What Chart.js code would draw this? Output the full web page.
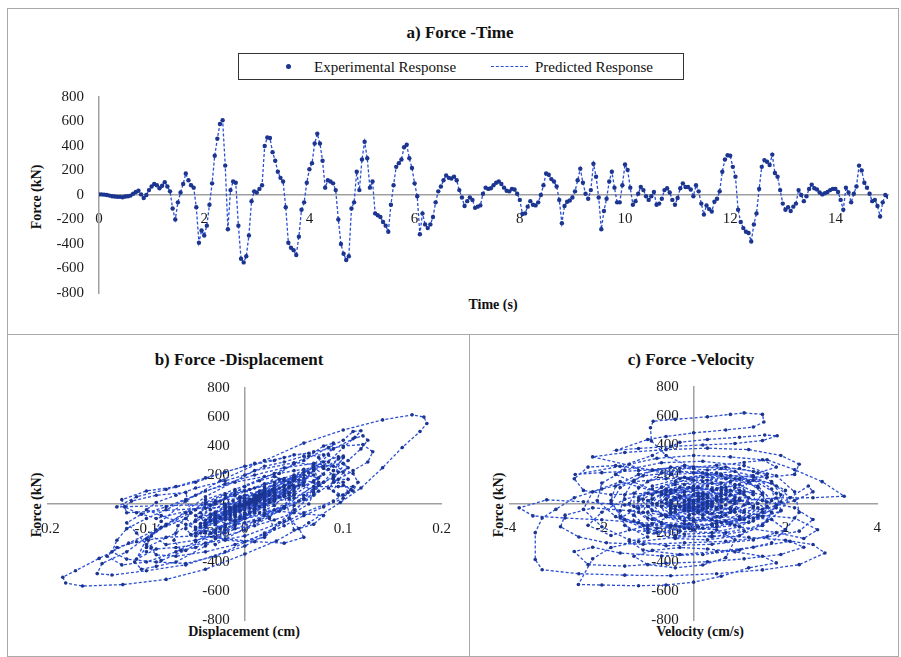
<!DOCTYPE html>
<html>
<head>
<meta charset="utf-8">
<script src="https://cdn.jsdelivr.net/npm/chart.js@4.4.1/dist/chart.umd.min.js"></script>
<style>
  body { margin: 0; background: #fff; width: 901px; height: 657px; position: relative; overflow: hidden;
         font-family: 'Liberation Serif', 'Times New Roman', serif; color: #111; }
  .frame { position: absolute; border: 1px solid #a9a9a9; box-sizing: border-box; }
  .title { position: absolute; font-weight: bold; font-size: 17px; line-height: 1; white-space: nowrap;
           transform: translate(-50%, -50%); }
  .axt { position: absolute; font-weight: bold; font-size: 14px; line-height: 1; white-space: nowrap;
         transform: translate(-50%, -50%); }
  .axt.rot { transform: translate(-50%, -50%) rotate(-90deg); }
  .legend { position: absolute; left: 238px; top: 53px; width: 446px; height: 27px; border: 1px solid #333;
            box-sizing: border-box; font-size: 15px; }
  .legend span { position: absolute; line-height: 1; white-space: nowrap; }
  canvas { position: absolute; }
</style>
</head>
<body>
<div class="frame" style="left:7px;top:8px;width:892px;height:327px"></div>
<div class="frame" style="left:7px;top:334px;width:463px;height:323px"></div>
<div class="frame" style="left:469px;top:334px;width:430px;height:323px"></div>

<div class="title" style="left:460px;top:32px">a) Force -Time</div>
<div class="legend">
  <span style="left:47px;top:10px;width:5px;height:5px;border-radius:50%;background:#1b3590"></span>
  <span style="left:75px;top:6px">Experimental Response</span>
  <span style="left:252px;top:12px;width:37px;height:0;border-top:1.5px dashed #2b4fd4"></span>
  <span style="left:296px;top:6px">Predicted Response</span>
</div>
<div class="axt rot" style="left:37px;top:197px">Force (kN)</div>
<div class="axt" style="left:493px;top:305px">Time (s)</div>

<div class="title" style="left:239px;top:359px">b) Force -Displacement</div>
<div class="axt rot" style="left:37px;top:505px">Force (kN)</div>
<div class="axt" style="left:244px;top:632px">Displacement (cm)</div>

<div class="title" style="left:691px;top:359px">c) Force -Velocity</div>
<div class="axt rot" style="left:499px;top:505px">Force (kN)</div>
<div class="axt" style="left:700px;top:632px">Velocity (cm/s)</div>

<canvas id="chartA" width="889" height="324" style="left:8px;top:9px"></canvas>
<canvas id="chartB" width="459" height="318" style="left:8px;top:336px"></canvas>
<canvas id="chartC" width="426" height="318" style="left:471px;top:336px"></canvas>

<script>
// a) force history, one value every 0.05 s from 0 to 15 s (kN)
const timeStep = 0.05;
const forceTime = [
  5, 5, 3, 0, -5, -10, -12, -15, -15, -18, -12, -10, -5, 10, 25, 35, 5, -25, 0, 40,
  70, 90, 80, 55, 75, 105, 70, 30, -110, -200, -60, 20, 90, 175, 120, 80, 60, -100, -390, -290,
  -330, -250, -80, 95, 320, 460, 580, 610, 240, -280, 40, 110, 100, -250, -520, -550, -500, -330, -50, 30,
  20, 50, 80, 400, 470, 465, 350, 280, 190, 140, 110, -100, -390, -430, -450, -490, -340, -120, -60, 100,
  210, 260, 420, 500, 420, 280, 60, 120, 110, 95, 40, -200, -400, -480, -530, -500, -110, -60, 190, 40,
  290, 435, 300, 60, 110, -150, -165, -180, -220, -250, -300, -80, 80, 230, 260, 290, 390, 410, 300, 220,
  95, -10, -320, -150, -240, -270, -240, -180, -60, 30, 70, 120, 160, 140, 135, 150, 120, 40, -20, -90,
  -50, -20, -40, -105, -95, -85, 10, 60, 50, 55, 80, 100, 110, 90, 60, 35, 30, 50, 45, 10,
  -40, -155, -150, -95, -50, -80, -85, -60, 0, 80, 175, 165, 130, 110, 70, -40, -230, -90, -55, -45,
  -20, 30, 120, 215, 100, 10, -30, 40, 255, 150, -20, -280, -130, -30, 110, 190, 60, -60, -60, 80,
  250, 205, 60, -80, -50, 10, 65, 40, -10, -40, -10, 25, -80, -70, -30, 40, 55, 20, -40, -80,
  -25, 55, 95, 65, 65, 45, -10, 80, 30, -70, -160, -85, -115, -135, -55, -30, 30, 190, 290, 325,
  320, 230, 150, -120, -220, -270, -300, -310, -380, -240, -150, 50, 230, 285, 272, 245, 330, 180, 150, 40,
  -70, -120, -100, -130, -95, -70, 40, 0, -50, -10, 50, 85, 55, 45, 20, 5, 14, 25, 40, 50,
  50, 25, -40, -120, 60, 20, -60, 10, 70, 240, 200, 100, 60, 10, -50, -40, -90, -175, -60, 0,
  -15
];
const timeTicks = [0, 2, 4, 6, 8, 10, 12, 14];

// b) displacement (cm), force (kN) along the loops
const dispForce = [
  [0,5],[0.004,-8],[-0.006,-15],[0.003,10],[0.012,40],[0.018,70],[0.008,30],[0.02,90],[0.028,100],[0.015,60],
  [-0.01,-30],[-0.03,-110],[-0.045,-200],[-0.035,-90],[-0.012,20],[0.02,100],[0.04,175],[0.048,130],[0.04,80],[0.025,10],
  [-0.02,-150],[-0.06,-320],[-0.085,-390],[-0.095,-300],[-0.1,-330],[-0.098,-250],[-0.085,-120],
  [-0.06,20],[-0.025,160],[0.02,300],[0.06,420],[0.1,510],[0.14,580],[0.17,615],[0.182,600],[0.185,555],[0.178,500],
  [0.16,390],[0.14,250],[0.118,110],[0.097,10],[0.065,-130],[0.032,-255],[0,-345],[-0.04,-450],[-0.08,-520],[-0.124,-556],
  [-0.165,-566],[-0.182,-545],[-0.185,-505],[-0.172,-460],
  [-0.148,-375],[-0.118,-270],[-0.085,-160],[-0.055,-60],[-0.03,20],[-0.005,40],[0.012,25],[0.03,60],[0.06,220],[0.09,380],
  [0.11,450],[0.12,470],[0.125,440],[0.118,380],[0.105,300],[0.095,220],[0.09,170],[0.1,130],[0.108,100],
  [0.09,20],[0.06,-60],[0.02,-200],[-0.02,-330],[-0.06,-420],[-0.1,-460],[-0.135,-490],[-0.15,-480],[-0.145,-410],
  [-0.12,-330],[-0.09,-180],[-0.06,-100],[-0.04,30],[-0.01,100],[0.03,210],[0.06,300],[0.085,390],[0.1,440],[0.11,500],
  [0.118,505],[0.112,460],
  [0.1,390],[0.085,290],[0.07,230],[0.055,130],[0.045,60],[0.04,100],[0.02,20],[-0.01,-150],[-0.04,-290],[-0.07,-400],
  [-0.09,-430],[-0.105,-450],[-0.112,-400],
  [-0.1,-300],[-0.07,-200],[-0.05,-110],[-0.03,0],[-0.01,90],[0.02,120],[0.035,210],[0.05,280],[0.065,330],[0.08,400],[0.09,420],
  [0.085,340],[0.07,240],[0.06,150],[0.05,70],[0.04,-20],[0.025,-90],[0,-180],[-0.03,-240],[-0.05,-300],[-0.065,-320],[-0.072,-250],
  [-0.068,-150],[-0.055,-60],[-0.06,80],[-0.09,60],[-0.115,20],[-0.122,-20],[-0.11,-60],[-0.09,-100],[-0.035,-10],[-0.02,40],
  [0,120],[0.015,160],[0.03,190],[0.045,150],[0.05,160],
  [0.04,60],[0.05,-180],[0.07,-140],[0.08,-80],[0.02,-40],[0,-100],[-0.02,-180],[-0.035,-200],[-0.04,-150],[-0.03,-90],
  [-0.01,-20],[0.01,60],[0.03,100],[0.045,40],[0.04,-20],[0.02,-60],[0,-100],
  [-0.02,-50],[-0.04,-130],[-0.045,-155],[-0.03,-100],[-0.01,-50],[-0.02,-80],[0,0],[0.03,80],[0.05,175],[0.055,165],
  [0.045,120],[0.03,60],[0.01,-40],[-0.03,-230],[-0.04,-150],[-0.02,-60],[-0.01,-20],[0.01,30],[0.04,120],[0.065,215],
  [0.06,150],[0.03,20],[0.005,-30],[0.02,40],[0.07,255],[0.075,150],[0.04,-20],[-0.03,-280],[-0.05,-200],[-0.02,-50],
  [0.02,110],[0.05,190],[0.04,80],[0,-60],[-0.01,-50],[0.02,80],[0.07,250],[0.08,205],[0.05,60],[0,-80],
  [-0.01,-50],[0.005,10],[0.02,65],[0.015,40],[-0.002,-10],[-0.015,-40],[-0.005,-10],[0.008,25],[-0.01,-80],[-0.02,-70],
  [-0.01,-30],[0.01,40],[0.02,55],[0.01,20],[-0.01,-40],[-0.03,-80],[-0.015,-25],[0.012,55],[0.03,95],[0.025,65],
  [0.02,65],[0.015,45],[0,-10],[0.02,80],[0.01,30],[-0.015,-70],[-0.04,-160],[-0.03,-85],[-0.035,-115],[-0.045,-135],
  [-0.03,-55],[-0.02,-30],
  [0.01,30],[0.05,190],[0.08,290],[0.095,325],[0.1,320],[0.09,230],[0.08,150],[0.04,-120],[0,-220],[-0.04,-270],
  [-0.07,-300],[-0.09,-310],[-0.11,-380],[-0.1,-240],[-0.08,-150],[-0.04,50],[0.01,230],[0.05,285],[0.07,272],[0.08,245],
  [0.1,330],[0.09,180],[0.08,150],[0.06,40],
  [0.02,-70],[-0.01,-120],[-0.02,-100],[-0.03,-130],[-0.02,-95],[-0.01,-70],[0.01,40],[0.01,0],[-0.005,-50],[0,-10],
  [0.015,50],[0.025,85],[0.02,55],[0.015,45],[0.01,20],[0.005,5],[0.007,14],[0.01,25],[0.013,40],[0.016,50],
  [0.01,25],[-0.005,-40],[-0.03,-120],[0,60],[0.01,20],[-0.01,-60],[0,10],[0.02,70],[0.06,240],[0.07,200],
  [0.04,100],[0.025,60],[0.01,10],[-0.01,-50],[-0.015,-40],[-0.025,-90],[-0.05,-175],[-0.03,-60],[-0.005,0],[-0.005,-15],
  [-0.12,-60],[-0.125,30],[-0.1,90],[-0.07,120],[-0.04,180],[0,260],[0.03,300],[0.05,340],[0.065,350],[0.075,320],
  [0.08,250],[0.09,200],[0.1,150],[0.105,80],[0.1,40],[0.08,-20],[0.06,-80],[0.04,-150],[0.02,-210],[-0.01,-280],
  [-0.04,-330],[-0.07,-360],[-0.09,-350],[-0.1,-280],[-0.11,-200],[-0.12,-130],[-0.105,-70],[-0.08,-20],[-0.05,60],[-0.02,140],
  [0.01,200],[0.04,250],[0.07,280],[0.09,260],[0.11,210],[0.115,150],[0.11,90],[0.095,60],[0.085,110],[0.095,170],
  [0.105,170],[0.1,220],[0.09,90],[0.1,60],[0.11,120],[0.095,120],
  [0.07,120],[0.05,40],[0.03,-40],[0.01,-120],[-0.02,-200],[-0.05,-250],[-0.08,-280],[-0.095,-220],[-0.08,-140],[-0.06,-60],
  [-0.04,0],[-0.02,60],[0,40],[0.02,100],[0.04,160],[0.06,200],[0.075,180],[0.07,100],[0.055,20],[0.035,-50],
  [0.015,-110],[-0.01,-140],[-0.03,-120],[-0.045,-60],[-0.04,10],[-0.02,70],[0,90],[0.02,50],[0.01,-30],[-0.01,-90],
  [-0.02,-110],[-0.03,-60],[-0.02,-10],[0,30],[0.02,70],[0.035,110],[0.04,130],[0.03,80],[0.015,20],[0,-40],
  [-0.015,-90],[-0.03,-140],[-0.025,-170],[-0.01,-120],[0.005,-60],[0.02,0],[0.03,40],[0.04,90],[0.05,120],[0.045,80],
  [0.03,30],[0.015,-20],[0,-70],[-0.015,-110],[-0.02,-70],[-0.01,-20],[0.005,30],[0.02,80],[0.03,130],[0.02,100],
  [0.01,50],[-0.005,0],[-0.015,-50],[-0.025,-100],[-0.04,-110],[-0.05,-80],[-0.04,-30],[-0.025,20],[-0.01,70],[0.005,100],
  [0.02,140],[0.035,170],[0.05,200],[0.06,180],[0.05,110],[0.035,50],[0.02,-10],[0.01,-60],[-0.005,-100],[-0.02,-140],
  [-0.04,-190],[-0.055,-210],[-0.06,-170],[-0.05,-120],[-0.035,-70],[-0.02,-20],[-0.005,20],[0.01,50],[0.025,30],[0.01,-10],
  [0,10],[0.015,70],[0.03,110],[0.02,60],[0.005,10],[-0.01,-30],[0,-20],[0.01,15],[0.02,35],[0.012,5],
  [-0.13,-20],[-0.11,50],[-0.08,100],[-0.05,150],[-0.02,220],[0.01,280],[0.04,320],[0.07,360],[0.1,400],[0.12,410],
  [0.13,360],[0.125,290],[0.11,230],[0.09,150],[0.07,60],[0.05,-40],[0.035,-130],[0.02,-220],[0,-290],[-0.03,-360],
  [-0.06,-410],[-0.09,-400],[-0.12,-380],[-0.135,-330],[-0.13,-250],[-0.12,-170],[-0.1,-100],[-0.08,-40],[-0.06,30],[-0.04,90],
  [-0.01,150],[0.02,190],[0.05,230],[0.08,260],[0.1,280],[0.105,250],[0.09,190],[0.075,130],[0.06,60],[0.05,-10],
  [0.045,-100],[0.055,-170],[0.06,-230],[0.04,-270],[0.01,-260],[-0.02,-240],[-0.05,-220],[-0.08,-230],[-0.11,-260],[-0.13,-300],
  [-0.14,-360],[-0.125,-420],[-0.1,-400],[-0.07,-330],[-0.05,-260],[-0.03,-180],[-0.01,-110],[0.01,-50],[0.03,20],[0.05,90],
  [0.07,160],[0.085,240],[0.095,310],[0.08,340],[0.06,330],[0.04,290],[0.02,260],[0,200],[-0.02,160],[-0.05,110],
  [-0.07,60],[-0.09,10],[-0.1,-40],[-0.085,-80],[-0.06,-140],[-0.04,-200],[-0.02,-250],[0,-260],[0.02,-230],[0.03,-170],
  [0.025,-100],[0.02,-20],[0.03,50],[0.045,110],[0.06,130],[0.07,80],[0.065,0],[0.05,-60],[0.03,-110],[0.01,-150],
  [-0.01,-170],[-0.03,-200],[-0.05,-160],[-0.06,-100],[-0.05,-40],[-0.03,10],[-0.01,60],[0.01,110],[0.03,150],[0.05,170],
  [0.07,150],[0.075,90],[0.06,30],[0.04,-30],[0.02,-80],[0,-130],[-0.02,-160],[-0.04,-140],[-0.045,-90],[-0.035,-40],
  [-0.02,0],[-0.005,50],[0.015,90],[0.03,100],[0.04,50],[0.03,-10],[0.015,-60],[-0.005,-90],[-0.02,-60],[-0.01,-10]
];

// c) velocity (cm/s), force (kN) along the loops
const velForce = [
  [0,0],[0.3,15],[0.6,50],[0.4,90],[-0.1,110],[-0.5,70],[-0.7,10],[-0.4,-40],[0.1,-60],[0.6,-30],
  [0.9,40],[0.7,110],[0.2,150],[-0.4,130],[-0.9,60],[-1,-20],[-0.6,-90],[0,-120],[0.7,-80],[1.2,0],[1.1,80],[0.6,140],
  [0,240],[-0.6,330],[-0.92,430],[-0.94,520],[-0.88,565],[-0.4,578],[0.3,595],[0.8,612],[1.1,622],[1.5,612],
  [1.53,560],[1.3,525],[0.7,505],[0,485],[-0.6,460],[-1,440],[-1.68,366],[-1.2,378],[-0.5,392],[0.2,402],
  [0.9,412],[1.5,432],[1.82,465],[1.55,470],[1,455],[0.3,440],[-0.3,420],
  [-0.9,330],[-1.6,255],[-2.58,199],[-2,212],[-1.2,226],[-0.3,242],[0.5,262],[1.1,282],[1.6,300],[2.2,232],
  [2.8,150],[3.28,50],[2.6,40],[1.8,38],[1,20],[0.3,0],[-0.5,-20],
  [-1.5,-10],[-2.4,12],[-3.2,25],[-3.8,-30],[-3.5,-85],[-2.8,-100],[-2,-112],[-1.2,-130],[-0.4,-150],[0.4,-140],
  [1,-110],[1.5,-60],[1.9,10],[2,90],[1.7,140],[1,170],[0.2,180],[-0.6,170],[-1.3,150],[-2,100],
  [-2.6,40],[-3,-40],[-3.3,-100],
  [-3.45,-200],[-3.45,-385],[-3.3,-455],[-2.5,-482],[-1.5,-492],[-0.5,-496],[0.5,-482],[1.5,-456],[2.3,-420],[2.86,-340],
  [2.6,-282],[2,-252],[1.2,-232],[0.4,-222],[-0.4,-232],[-1.2,-262],[-1.8,-302],[-2.2,-380],[-2.51,-556],[-2,-560],
  [-1.2,-565],[-0.6,-560],[0,-540],[0.6,-500],[1.2,-442],[1.8,-408],[1.5,-362],[0.9,-332],[0.3,-312],[-0.3,-302],
  [-0.9,-322],[-1.3,-362],[-1,-420],[-0.4,-442],[0.2,-422],[0.7,-372],
  [0.9,-250],[0.5,-180],[-0.2,-170],[-0.8,-200],[-1.4,-180],[-1.6,-100],[-1.2,-30],[-0.5,20],[0.3,60],[1,90],
  [1.5,60],[1.6,-20],[1.2,-90],[0.5,-120],[-0.3,-100],[-0.9,-50],[-1.2,40],[-0.9,120],[-0.2,180],[0.6,200],
  [1.3,180],[1.8,120],[2.1,40],[1.9,-50],[1.3,-120],
  [2.5,120],[2.6,80],[2.2,20],[1.5,-40],[0.8,-60],[0.2,-80],[-0.4,-60],[-0.8,0],[-0.6,60],[0,90],
  [0.6,70],[0.9,0],[0.6,-60],[0,-70],[-0.5,-30],[-0.6,30],[-0.2,80],[0.4,100],[0.8,60],[0.7,-10],
  [0.2,-40],[-0.3,-20],[-0.4,40],[0,60],[0.5,40],[0.4,-20],[-0.1,-30],[-0.2,10],[0.1,30],[0.3,10],
  [-1,-150],[-1.8,-220],[-2.3,-150],[-2,-60],[-1.5,30],[-0.8,80],[0,120],[0.8,150],[1.4,210],[1.8,250],
  [1.5,300],[0.8,320],[0,330],[-0.8,310],[-1.4,270],[-1.7,200],
  [1,-160],[1.8,-200],[2.4,-240],[2.7,-180],[2.2,-100],[1.4,-80],
  [0.8,-40],[0.2,0],[-0.3,50],[-0.6,100],[-0.3,170],[0.3,200],[0.9,220],[1.2,150],[1,70],[0.5,20],
  [0,-20],[-0.5,-60],[-0.9,-110],[-0.5,-160],[0.2,-170],[0.8,-140],[1.1,-60],[0.8,10],[0.3,40],[-0.2,20],
  [-0.4,-20],[-0.1,-50],[0.3,-30],[0.5,30],[0.2,70],[-0.2,60],[-0.5,0],[-0.2,-40],[0.2,-10],[0.1,20],
  [0.4,-10],[0.9,-60],[1.3,-20],[1.5,70],[1.2,150],[0.6,190],[-0.1,170],[-0.7,110],[-1.1,30],[-1.2,-60],
  [-0.9,-140],[-0.3,-190],[0.4,-200],[1,-160],[1.4,-90],[1.6,10],[1.4,110],[0.9,170],[0.2,210],[-0.5,200],
  [-1,150],[-1.3,70],[-1.3,-20],[-1,-100],[-0.5,-150],[0.1,-160],[0.7,-120],[1.1,-50],[1.2,40],[0.9,110],
  [0.4,140],[-0.2,130],[-0.7,80],[-0.9,0],[-0.7,-80],[-0.2,-120],[0.4,-110],[0.8,-60],[0.9,20],[0.6,90],
  [0.1,110],[-0.4,90],[-0.6,30],[-0.5,-40],[-0.1,-80],[0.4,-70],[0.6,-20],[0.5,50],[0.1,70],[-0.3,40],
  [-0.3,-20],[0,-40],[0.3,-20],[0.2,30],[-0.1,30],[-0.1,0],[0.7,30],[1.4,0],[1.7,-60],[1.5,-150],
  [1,-220],[0.3,-250],[-0.4,-240],[-1,-200],[-1.3,-120],[-1.4,0],[-1.2,110],[-0.7,210],[0,250],[0.7,250],
  [1.3,220],[1.7,150],[1.9,60],[1.8,-30],[1.3,-100],[0.6,-130],[0,-110],[-0.5,-70],[-0.8,-10],[-0.7,60],
  [-0.3,110],[0.3,120],[0.8,90],[1,30],[0.8,-30],[0.3,-60],[-0.2,-50],[-0.5,0],[-0.3,50],[0.2,60],
  [0.6,30],[0.5,-30],[0.1,-50],[-0.2,-10],[0,20],[0.5,100],[1,130],[1.3,80],[1.1,-10],[0.6,-90],
  [-0.1,-140],[-0.7,-130],[-1.1,-60],[-1,20],[-0.6,80],[0,100],[0.6,110],[1.1,60],[1.3,-30],[1,-110],
  [0.4,-150],[-0.2,-140],[-0.6,-90],[-0.7,-20],[-0.4,40],[0.1,50],[0.4,10],[0.2,-30],[-0.1,-20],[0,10],
  [-1.6,150],[-2.2,80],[-2.4,-40],[-2,-160],[-1.4,-250],[-0.6,-290],[0.4,-280],[1.3,-250],[2,-180],[2.3,-60],
  [2.2,80],[1.8,190],[1.1,260],[0.2,290],[-0.7,280],[-1.5,230],[-2,140],[-2.1,20],[-1.7,-90],[-1,-180],
  [-0.2,-210],[0.7,-200],[1.5,-150],[1.9,-50],[1.8,70],[1.3,160],[0.5,210],[-0.3,220],[-1.1,190],[-1.6,110],
  [-1.8,0],[-1.5,-110],[-0.8,-170],[0,-180],[0.9,-150],[1.5,-90],[1.7,20],[1.4,120],[0.7,170],[0,160],
  [-2.2,320],[-1.5,350],[-0.6,370],[0.3,380],[1.2,370],[1.9,330],[2.3,270],[2.2,200],[1.6,180],[0.8,190],
  [0,210],[-0.9,230],[-1.7,260],[-2.3,250],[-2.6,170],[-2.4,90],[-1.8,60],[-1,70],[-0.2,80],[0.7,60],
  [1.5,20],[2.2,-30],[2.6,-110],[2.3,-190],[1.6,-230],[0.7,-260],[-0.2,-270],[-1.1,-280],[-1.9,-270],[-2.5,-230],
  [-2.9,-160],[-2.8,-80],[-2.2,-30],[-1.4,-50],[-0.6,-80],[0.2,-100],[1,-90],[1.7,-110],[2,-180],[1.7,-270],
  [1,-320],[0.2,-350],[-0.7,-360],[-1.6,-340],[-2.2,-300],[-2.6,-330],[-2.3,-420],[-1.5,-430],[-0.6,-410],[0.3,-400],
  [1.1,-380],[1.9,-350],[2.4,-300],[2.1,-260],[1.3,-300],[0.5,-330],[-0.3,-350],[-1.1,-320],[-1.4,-260],[-1,-230],
  [-1.5,-150],[-1.6,-50],[-1.5,60],[-1.3,160],[-0.9,230],[-0.2,260],[0.6,240],[1.3,190],[1.7,100],[1.8,-10],
  [1.6,-120],[1.1,-190],[0.4,-230],[-0.4,-220],[-1,-170],[-1.3,-80],[-1.2,20],[-0.9,100],[-0.4,150],[0.3,160],
  [0.9,130],[1.3,60],[1.4,-30],[1.1,-110],[0.5,-160],[-0.1,-170],[-0.7,-140],[-1,-60],[-0.9,30],[-0.5,90],
  [0.1,110],[0.7,90],[1,30],[0.9,-40],[0.5,-90],[-0.1,-100],[-0.5,-60],[-0.6,0],[-0.3,50],[0.2,50],
  [0.6,10],[0.5,-40],[0.1,-60],[-0.2,-30],[-0.1,20],[0.3,40],[0.4,0],[0.1,-20],[1.6,200],[1,240],
  [0.3,230],[-0.5,250],[-1.2,200],[-1.7,120],[-1.8,20],[-1.6,-90],[-1.1,-150],[-0.3,-160],[0.5,-140],[1.2,-130]
];

const dotColor = '#1b3590';
const dashColor = '#2b4fd4';
const tickFont = { family: 'Liberation Serif', size: 15 };

function pointsOf(pairs) {
  return pairs.map(p => ({ x: p[0], y: p[1] }));
}

function seriesSets(points, dotRadius) {
  return [
    { label: 'Experimental Response', data: points, showLine: false, pointRadius: dotRadius,
      pointBackgroundColor: dotColor, pointBorderWidth: 0, order: 0 },
    { label: 'Predicted Response', data: points, showLine: true, pointRadius: 0,
      borderColor: dashColor, borderWidth: 1.3, borderDash: [3, 2], tension: 0, order: 1 }
  ];
}

function axisBase(extra) {
  return Object.assign({
    type: 'linear',
    z: 1,
    grid: { display: true, drawOnChartArea: false, drawTicks: false },
    border: { color: '#a0a0a0', width: 1.5 },
  }, extra);
}

// centred y axis labels are drawn flush with the axis, two en spaces keep them clear of it
const yLabel = v => v + '\u2002\u2002';

function makeChart(id, points, xOpts, padding, dotRadius) {
  return new Chart(document.getElementById(id), {
    type: 'scatter',
    data: { datasets: seriesSets(points, dotRadius) },
    options: {
      responsive: false,
      animation: false,
      events: [],
      layout: { padding: padding },
      plugins: { legend: { display: false }, tooltip: { enabled: false } },
      scales: {
        x: axisBase(Object.assign({ position: { y: 0 } }, xOpts)),
        y: axisBase({
          position: { x: 0 }, min: -800, max: 800,
          ticks: { stepSize: 200, color: '#1a1a1a', font: tickFont, callback: yLabel }
        })
      }
    }
  });
}

const timePoints = forceTime.map((f, i) => ({ x: +(i * timeStep).toFixed(2), y: f }));

makeChart('chartA', timePoints, {
  min: 0, max: 15,
  ticks: { stepSize: 2, padding: 15, color: '#1a1a1a', font: tickFont, autoSkip: false, maxRotation: 0 },
  afterBuildTicks: axis => { axis.ticks = timeTicks.map(v => ({ value: v })); }
}, { left: 91, right: 9, top: 88, bottom: 40 }, 2.2);

makeChart('chartB', pointsOf(dispForce), {
  min: -0.2, max: 0.2,
  ticks: { stepSize: 0.1, padding: 16, color: '#1a1a1a', font: tickFont, autoSkip: false, maxRotation: 0 }
}, { left: 40, right: 24, top: 52, bottom: 34 }, 1.8);

makeChart('chartC', pointsOf(velForce), {
  min: -4, max: 4,
  ticks: { stepSize: 2, padding: 16, color: '#1a1a1a', font: tickFont, autoSkip: false, maxRotation: 0 }
}, { left: 39, right: 6, top: 51, bottom: 34 }, 1.8);
</script>
</body>
</html>
